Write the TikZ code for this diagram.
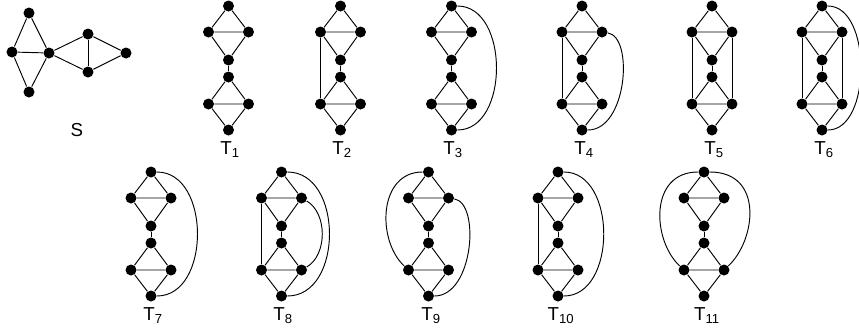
\documentclass[tikz,border=0pt]{standalone}
\usepackage{fontspec}
\setmainfont{Liberation Sans}
\usetikzlibrary{calc}

\tikzset{
    vtx/.style={circle,fill=black,inner sep=0pt,minimum size=0.33cm},
    lbl/.style={font=\fontsize{16}{18}\selectfont},
}

% the double-triangle graph, top vertex at (#2,#3)
\newcommand{\tgraph}[3]{%
    \begin{scope}[shift={(#2,#3)}]
        \node[vtx] (#1t) at (0,0) {};
        \node[vtx] (#1l) at (-20,26) {};
        \node[vtx] (#1r) at (20,26) {};
        \node[vtx] (#1m) at (0,54) {};
        \node[vtx] (#1n) at (0,71) {};
        \node[vtx] (#1a) at (-20,98) {};
        \node[vtx] (#1b) at (20,98) {};
        \node[vtx] (#1o) at (0,124) {};
    \end{scope}
    \draw (#1t) -- (#1l) -- (#1r) -- (#1t);
    \draw (#1l) -- (#1m) -- (#1r);
    \draw (#1m) -- (#1n);
    \draw (#1n) -- (#1a) -- (#1b) -- (#1n);
    \draw (#1a) -- (#1o) -- (#1b);
}

\begin{document}
\begin{tikzpicture}[x=0.03cm,y=-0.03cm,line width=0.8pt]
    \useasboundingbox (0,0) rectangle (859,331);

    % S
    \node[vtx] (st) at (29,13) {};
    \node[vtx] (sl) at (12,52) {};
    \node[vtx] (sc) at (49,53) {};
    \node[vtx] (sb) at (29,92) {};
    \node[vtx] (su) at (88,34) {};
    \node[vtx] (sd) at (88,72) {};
    \node[vtx] (sr) at (126,53) {};
    \draw (st) -- (sl) -- (sb) -- (sc) -- (st);
    \draw (sl) -- (sc);
    \draw (sc) -- (su) -- (sr) -- (sd) -- (sc);
    \draw (su) -- (sd);
    \node[lbl] (slab) at (77,130) {S};

    % first row
    \tgraph{p}{228.5}{6}
    \tgraph{q}{340.5}{6}
    \draw (ql) -- (qa);
    \tgraph{c}{451.5}{6}
    \draw (ct) .. controls +(58,0) and +(58,0) .. (co);
    \tgraph{d}{582}{6}
    \draw (dl) -- (da);
    \draw (dr) .. controls +(32,5) and +(45,0) .. (do);
    \tgraph{e}{712}{6}
    \draw (el) -- (ea);
    \draw (er) -- (eb);
    \tgraph{f}{822}{6}
    \draw (fl) -- (fa);
    \draw (fr) -- (fb);
    \draw (ft) .. controls +(50,0) and +(50,0) .. (fo);

    \node[lbl] (plab) at (230,150) {T\textsubscript{1}};
    \node[lbl] (qlab) at (342,150) {T\textsubscript{2}};
    \node[lbl] (clab) at (453,150) {T\textsubscript{3}};
    \node[lbl] (dlab) at (584,150) {T\textsubscript{4}};
    \node[lbl] (elab) at (714,150) {T\textsubscript{5}};
    \node[lbl] (flab) at (824,150) {T\textsubscript{6}};

    % second row
    \tgraph{g}{151}{172}
    \draw (gt) .. controls +(60,0) and +(60,0) .. (go);
    \tgraph{h}{281.5}{172}
    \draw (hl) -- (ha);
    \draw (ht) .. controls +(62,0) and +(62,0) .. (ho);
    \draw (hr) .. controls +(26,15) and +(26,-15) .. (hb);
    \tgraph{i}{428.5}{172}
    \draw (it) .. controls +(-50,0) and +(-32,-30) .. (ia);
    \draw (ir) .. controls +(32,5) and +(45,0) .. (io);
    \tgraph{j}{558}{172}
    \draw (jl) -- (ja);
    \draw (jt) .. controls +(59,0) and +(59,0) .. (jo);
    \tgraph{k}{704}{172}
    \draw (kt) .. controls +(-55,0) and +(-32,-30) .. (ka);
    \draw (kt) .. controls +(60,0) and +(32,-30) .. (kb);

    \node[lbl] (glab) at (153,316) {T\textsubscript{7}};
    \node[lbl] (hlab) at (283,316) {T\textsubscript{8}};
    \node[lbl] (ilab) at (431,316) {T\textsubscript{9}};
    \node[lbl] (jlab) at (561,316) {T\textsubscript{10}};
    \node[lbl] (klab) at (707,316) {T\textsubscript{11}};
\end{tikzpicture}
\end{document}
